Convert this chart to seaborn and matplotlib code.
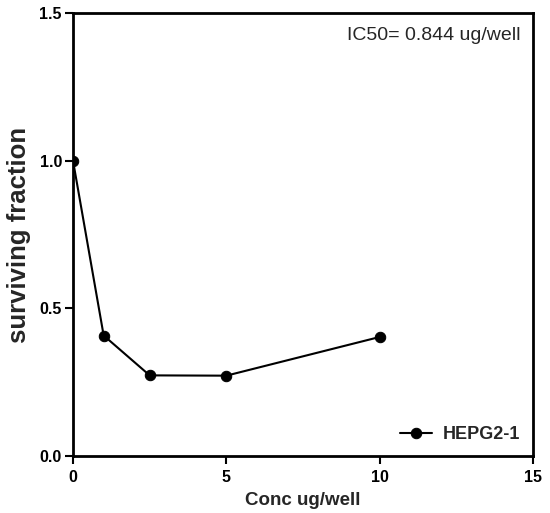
import pandas as pd
import matplotlib
matplotlib.use('Agg')
import matplotlib.pyplot as plt
import seaborn as sns

# Data
conc = [0, 1, 2.5, 5, 10]
surviving = [1.0, 0.408, 0.273, 0.272, 0.403]
series_name = 'HEPG2-1'
x_ticks = [0, 5, 10, 15]
y_ticks = [0.0, 0.5, 1.0, 1.5]
y_tick_labels = ['0.0', '0.5', '1.0', '1.5']

data = pd.DataFrame({'Conc': conc, 'Surviving': surviving, 'Line': series_name})

sns.set_style('ticks')
plt.rcParams['font.family'] = ['Liberation Sans', 'DejaVu Sans']

fig = plt.figure(figsize=(5.5, 5.13), dpi=100)
ax = fig.add_axes([73 / 550, 1 - 456 / 513, 460 / 550, 443 / 513])

sns.lineplot(data=data, x='Conc', y='Surviving', hue='Line', palette=['black'],
             marker='o', markersize=7.5, markeredgecolor='black', linewidth=1.5, ax=ax)

ax.set_xlim(0, 15)
ax.set_ylim(0, 1.5)
ax.set_xticks(x_ticks)
ax.set_yticks(y_ticks)
ax.set_yticklabels(y_tick_labels)
for side in ['top', 'right', 'left', 'bottom']:
    ax.spines[side].set_visible(True)
    ax.spines[side].set_linewidth(2)
    ax.spines[side].set_color('black')
ax.tick_params(axis='both', direction='out', length=6, width=1.5, colors='black',
               labelsize=11.5)
ax.tick_params(axis='y', pad=2)
ax.tick_params(axis='x', pad=4)
for lbl in ax.get_xticklabels() + ax.get_yticklabels():
    lbl.set_fontweight('bold')

ax.set_xlabel('Conc ug/well', fontsize=13.5, fontweight='bold', labelpad=5)
ax.set_ylabel('surviving fraction', fontsize=18.5, fontweight='bold', labelpad=6)

ax.text(0.972, 0.95, 'IC50= 0.844 ug/well', transform=ax.transAxes,
        ha='right', va='center', fontsize=14)

leg = ax.legend(loc='lower right', frameon=False, prop={'weight': 'bold', 'size': 13},
                handlelength=1.8, handletextpad=0.6, borderaxespad=0.3)

fig.savefig('out.png', dpi=100)
